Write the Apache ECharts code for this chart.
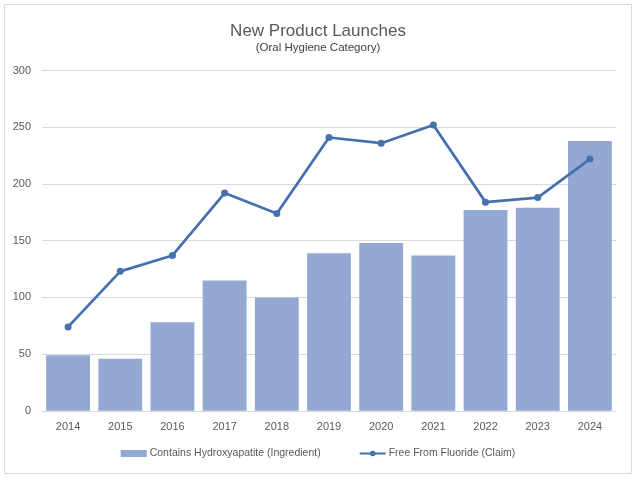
<!DOCTYPE html>
<html>
<head>
<meta charset="utf-8">
<script src="https://cdn.jsdelivr.net/npm/echarts@6/dist/echarts.min.js"></script>
<style>html,body{margin:0;padding:0;background:#fff}#c{width:636px;height:480px}</style>
</head>
<body>
<div id="c"></div>
<script>
var years = ['2014','2015','2016','2017','2018','2019','2020','2021','2022','2023','2024'];
var hydroxyapatite = [49, 46, 78, 115, 100, 139, 148, 137, 177, 179, 238];
var fluorideFree = [74, 123, 137, 192, 174, 241, 236, 252, 184, 188, 222];
var yTicks = [0, 50, 100, 150, 200, 250, 300];

var chart = echarts.init(document.getElementById('c'));
var font = 'Liberation Sans, Arial, sans-serif';
chart.setOption({
  animation: false,
  backgroundColor: '#fff',
  graphic: [{
    type: 'rect', shape: {x: 4.5, y: 4.5, width: 627, height: 469},
    style: {fill: 'none', stroke: '#d9d9d9', lineWidth: 1}, silent: true
  }],
  title: {
    text: 'New Product Launches',
    subtext: '(Oral Hygiene Category)',
    left: 'center', top: 18, itemGap: 2,
    textStyle: {fontFamily: font, fontSize: 17, fontWeight: 'normal', color: '#595959'},
    subtextStyle: {fontFamily: font, fontSize: 11.5, color: '#404040'}
  },
  legend: {
    bottom: 16, left: 'center', itemGap: 38, itemWidth: 26, itemHeight: 7,
    textStyle: {fontFamily: font, fontSize: 10.5, color: '#595959', padding: [0, 0, 0, -2]},
    data: [
      {name: 'Contains Hydroxyapatite (Ingredient)', icon: 'rect'},
      {name: 'Free From Fluoride (Claim)'}
    ]
  },
  grid: {left: 42, right: 20, top: 70.6, bottom: 69.2},
  xAxis: {
    type: 'category', data: years,
    axisLine: {lineStyle: {color: '#d9d9d9'}},
    axisTick: {show: false},
    axisLabel: {fontFamily: font, fontSize: 11, color: '#595959', margin: 11}
  },
  yAxis: {
    type: 'value', min: yTicks[0], max: yTicks[yTicks.length - 1], interval: 50,
    axisLine: {show: false}, axisTick: {show: false},
    splitLine: {lineStyle: {color: '#d9d9d9'}},
    axisLabel: {fontFamily: font, fontSize: 11, color: '#595959', margin: 11}
  },
  series: [{
    name: 'Contains Hydroxyapatite (Ingredient)',
    type: 'bar', data: hydroxyapatite, barCategoryGap: '16%',
    itemStyle: {color: '#94a9d1'}
  }, {
    name: 'Free From Fluoride (Claim)',
    type: 'line', data: fluorideFree,
    symbol: 'circle', symbolSize: 7,
    lineStyle: {color: '#4571ad', width: 2.75},
    itemStyle: {color: '#4571ad'}
  }]
});
</script>
</body>
</html>
